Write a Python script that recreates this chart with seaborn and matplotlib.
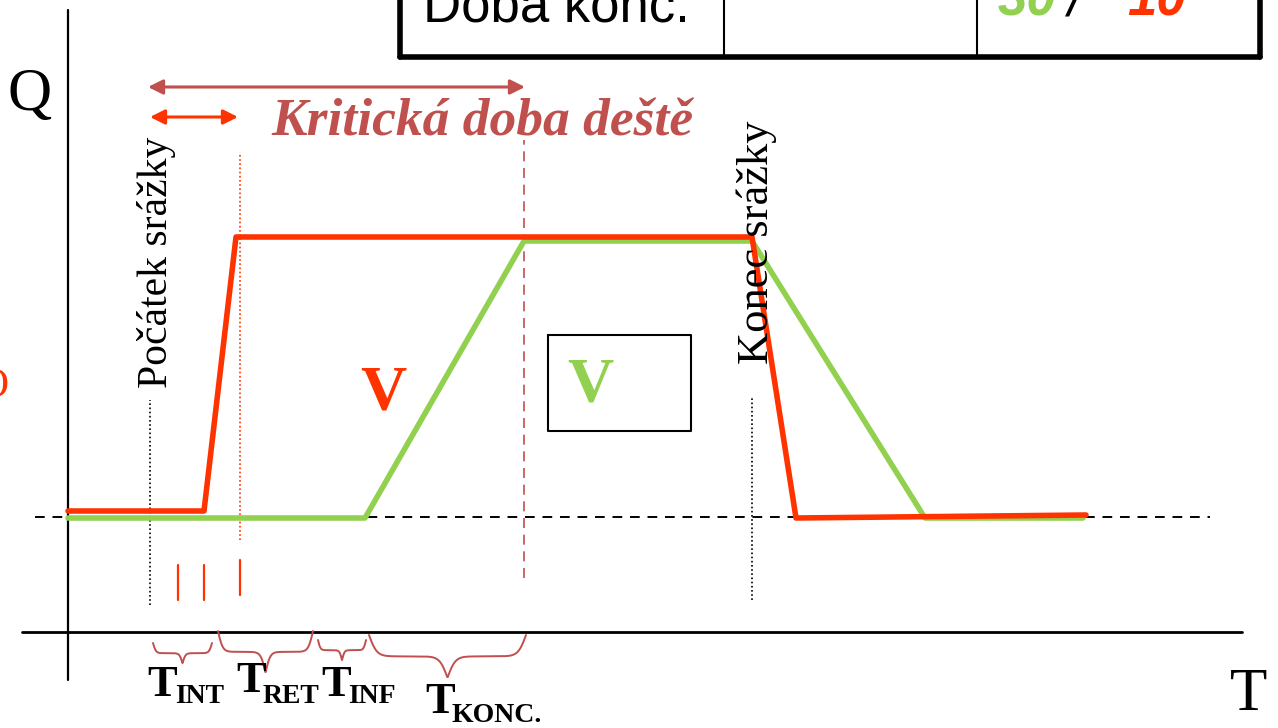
import numpy as np
import matplotlib
matplotlib.use("Agg")
import matplotlib.pyplot as plt
import seaborn as sns

# hydrograph values (time and discharge in drawing units)
red_t = [0, 13.6, 16.8, 68.4, 72.8, 101.8]
red_q = [12.1, 12.1, 39.5, 39.5, 11.4, 11.7]
green_t = [0, 29.7, 45.6, 68.4, 85.7, 101.5]
green_q = [11.4, 11.4, 39.1, 39.1, 11.4, 11.4]
base_q = 11.5

# key moments on the time axis
rain_start = 8.2
rain_end = 68.4
red_conc = 17.2
green_conc = 45.6
red_ticks = [11.0, 13.6, 17.2]

# time components under the axis
brace_labels = ["INT", "RET", "INF", "KONC."]
brace_spans = [(8.5, 14.4), (15.0, 24.5), (25.0, 29.8), (30.1, 45.8)]
brace_tops = [-1.1, 0.1, -0.8, -0.3]
brace_depths = [2.0, 4.1, 2.0, 4.2]

RED = "#ff3300"
GREEN = "#92d050"
BROWN = "#c0504d"

sns.set_theme(style="white")
plt.rcParams["font.family"] = ["Liberation Serif", "DejaVu Serif"]
plt.rcParams["text.color"] = "black"

fig = plt.figure(figsize=(12.78, 7.28), dpi=100)
ax = fig.add_axes([0, 0, 1, 1])
ax.set_xlim(-6.8, 121.0)
ax.set_ylim(-9.6, 63.2)
ax.axis("off")

# axes
ax.plot([0, 0], [-4.8, 62.2], color="black", lw=1.6)
ax.plot([-4.6, 117.4], [0, 0], color="black", lw=2.0)
ax.plot([-3.3, 114.2], [base_q, base_q], color="black", lw=1.4, ls=(0, (5, 4)))

# guide lines
ax.plot([rain_start, rain_start], [2.7, 23.2], color="black", lw=1.2, ls=(0, (1, 1.5)))
ax.plot([rain_end, rain_end], [3.2, 23.4], color="black", lw=1.2, ls=(0, (1, 1.5)))
ax.plot([red_conc, red_conc], [9.2, 47.7], color=RED, lw=1.2, ls=(0, (1, 1.5)))
ax.plot([green_conc, green_conc], [5.4, 49.2], color=BROWN, lw=1.2, ls=(0, (6, 4)))
for t, lo in zip(red_ticks, [3.2, 3.2, 3.7]):
    ax.plot([t, t], [lo, lo + 3.5], color=RED, lw=1.6)

sns.lineplot(x=green_t, y=green_q, color=GREEN, lw=4.0, ax=ax, sort=False)
sns.lineplot(x=red_t, y=red_q, color=RED, lw=4.0, ax=ax, sort=False)

# arrows
ax.annotate("", xy=(8.0, 54.5), xytext=(45.7, 54.5),
            arrowprops=dict(arrowstyle="<|-|>", color=BROWN, lw=2.2, mutation_scale=22,
                            shrinkA=0, shrinkB=0))
ax.annotate("", xy=(8.2, 51.5), xytext=(17.0, 51.5),
            arrowprops=dict(arrowstyle="<|-|>", color=RED, lw=2.2, mutation_scale=22,
                            shrinkA=0, shrinkB=0))
ax.text(41.4, 49.6, "Kritická doba deště", color=BROWN, fontsize=38.5,
        fontweight="bold", fontstyle="italic", ha="center", va="baseline")

# labels
ax.text(-3.8, 53.7, "Q", fontsize=44, ha="center", va="center")
ax.text(118.1, -6.3, "T", fontsize=44, ha="center", va="center")
ax.text(-6.0, 24.5, "O", fontsize=30, color=RED, ha="right", va="center")
ax.text(8.9, 37.0, "Počátek srážky", fontsize=30, rotation=90, ha="center", va="center")
ax.text(68.9, 39.0, "Konec srážky", fontsize=32, rotation=90, ha="center", va="center")
ax.text(31.5, 23.8, "V", fontsize=46, fontweight="bold", color=RED, ha="center", va="center")
ax.text(52.2, 24.6, "V", fontsize=46, fontweight="bold", color=GREEN, ha="center", va="center")
ax.plot([48.0, 62.3, 62.3, 48.0, 48.0], [29.7, 29.7, 20.1, 20.1, 29.7], color="black", lw=1.5)


# braces
def brace(x0, x1, y_top, h):
    xs = np.linspace(x0, x1, 300)
    xm = (x0 + x1) / 2
    beta = 40.0 / (x1 - x0)
    left = xs <= xm
    ys = np.empty_like(xs)
    xl = xs[left]
    ys[left] = 1 / (1 + np.exp(-beta * (xl - x0))) + 1 / (1 + np.exp(-beta * (xl - xm)))
    xr = xs[~left]
    ys[~left] = 1 / (1 + np.exp(-beta * (x1 - xr))) + 1 / (1 + np.exp(-beta * (xm - xr)))
    ys = (ys - ys.min()) / (ys.max() - ys.min())
    return xs, y_top - h * ys


label_pos = [(7.9, -6.4, 10.7, -7.1), (16.8, -6.0, 19.5, -7.1),
             (25.3, -6.4, 28.0, -7.1), (35.7, -8.1, 38.4, -9.0)]
for (x0, x1), top, dep, lab, (tx, ty, sx, sy) in zip(brace_spans, brace_tops, brace_depths,
                                                    brace_labels, label_pos):
    xs, ys = brace(x0, x1, top, dep)
    ax.plot(xs, ys, color=BROWN, lw=1.4)
    ax.text(tx, ty, "T", fontsize=32, fontweight="bold", ha="left", va="baseline")
    ax.text(sx, sy, lab, fontsize=20, fontweight="bold", ha="left", va="baseline")

# table fragment at top
ax.plot([33.2, 33.2], [57.5, 64.0], color="black", lw=4)
ax.plot([33.2, 119.2], [57.5, 57.5], color="black", lw=4)
ax.plot([119.2, 119.2], [57.5, 64.0], color="black", lw=4)
ax.plot([65.6, 65.6], [57.5, 64.0], color="black", lw=1.5)
ax.plot([90.9, 90.9], [57.5, 64.0], color="black", lw=1.5)
ax.text(35.5, 61.0, "Doba konc.", family="Liberation Sans", fontsize=38, ha="left", va="baseline")
ax.text(93.0, 61.7, "30", family="Liberation Sans", fontsize=38, fontweight="bold",
        fontstyle="italic", color=GREEN, ha="left", va="baseline")
ax.text(100.0, 61.7, "/", family="Liberation Sans", fontsize=38, fontstyle="italic",
        ha="left", va="baseline")
ax.text(105.9, 61.7, "10", family="Liberation Sans", fontsize=38, fontweight="bold",
        fontstyle="italic", color=RED, ha="left", va="baseline")

fig.savefig("out.png", dpi=100)
plt.close(fig)
